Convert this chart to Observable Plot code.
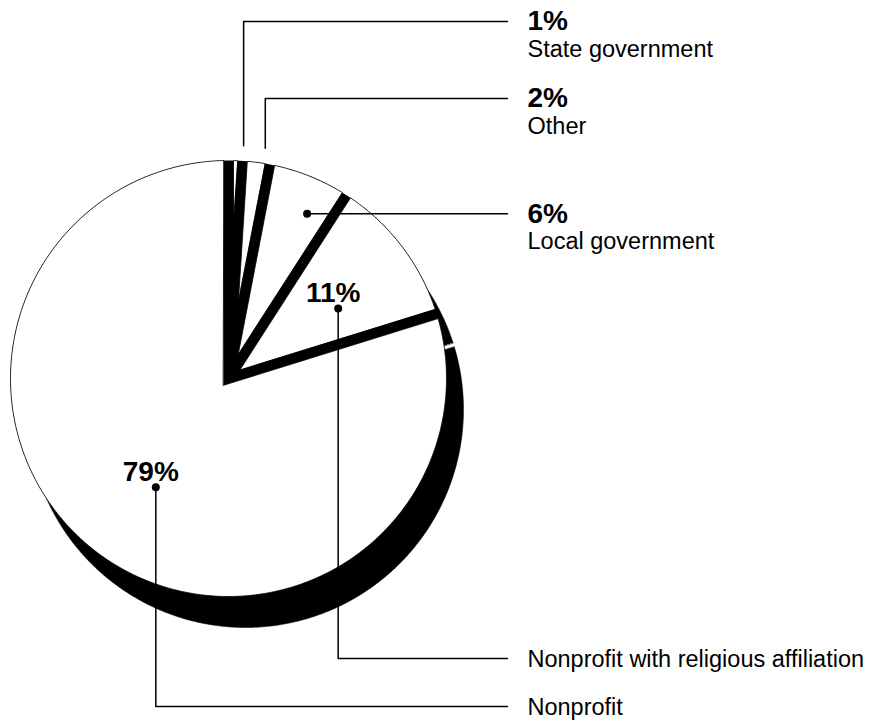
<!DOCTYPE html>
<html>
<head>
<meta charset="utf-8">
<script src="https://cdn.jsdelivr.net/npm/d3@7"></script>
<script src="https://cdn.jsdelivr.net/npm/@observablehq/plot@0.6"></script>
<style>
  html, body { margin: 0; padding: 0; background: #fff; }
  #chart { width: 873px; height: 721px; }
</style>
</head>
<body>
<div id="chart"></div>
<script>
// ---- data ----
const categories = ["State government", "Other", "Local government", "Nonprofit with religious affiliation", "Nonprofit"];
const shares = [1, 2, 6, 11, 79];
const percentLabels = ["1%", "2%", "6%", "11%", "79%"];
const percentInside = [false, false, false, true, true];

// ---- layout (radius units, pie centred at 0,0, radius 1) ----
const W = 873, H = 721, R_PX = 218, CX = 228, CY = 378;
const HALF_GAP = 5 / R_PX;
const SHADOW_HALF_GAP = 2 / R_PX;
const SHADOW_DX = 17 / R_PX, SHADOW_DY = -31 / R_PX;
const anchorShiftDeg = [1.9, 1.8, 3.7, 4.7, -2.6];
const anchorRadius = [1.07, 1.07, 0.837, 0.597, 0.6];
const labelRowY = [1.6376, 1.2844, null, -1.2844, -1.5046];
const lineEndX = 1.2798, textX = 1.3716;

const xDomain = [-CX / R_PX, (W - CX) / R_PX];
const yDomain = [-(H - CY) / R_PX, CY / R_PX];

const arcs = d3.pie().sort(null).startAngle(0).endAngle(2 * Math.PI)(shares);

function slicePoly(a0, a1, g) {
  const half = (a1 - a0) / 2, m = (a0 + a1) / 2;
  const d = g / Math.sin(half);
  const pts = [[d * Math.sin(m), d * Math.cos(m)]];
  const s = a0 + Math.asin(g), e = a1 - Math.asin(g);
  const n = Math.max(2, Math.ceil((e - s) / (Math.PI / 360)));
  for (let i = 0; i <= n; i++) {
    const t = s + (e - s) * i / n;
    pts.push([Math.sin(t), Math.cos(t)]);
  }
  return pts;
}

const sliceRows = [], shadowRows = [], diskRows = [];
arcs.forEach((a, i) => {
  slicePoly(a.startAngle, a.endAngle, HALF_GAP).forEach(([x, y]) => {
    sliceRows.push({id: categories[i], x, y});
  });
  slicePoly(a.startAngle, a.endAngle, SHADOW_HALF_GAP).forEach(([x, y]) => {
    shadowRows.push({id: categories[i], x: x + SHADOW_DX, y: y + SHADOW_DY});
  });
});
for (let i = 0; i < 360; i++) {
  const t = i * Math.PI / 180;
  diskRows.push({x: Math.sin(t), y: Math.cos(t)});
}

const anchors = arcs.map((a, i) => {
  const t = (a.startAngle + a.endAngle) / 2 + anchorShiftDeg[i] * Math.PI / 180;
  return {id: categories[i], x: anchorRadius[i] * Math.sin(t), y: anchorRadius[i] * Math.cos(t)};
});
const rowY = anchors.map((p, i) => labelRowY[i] == null ? p.y : labelRowY[i]);

const leaderRows = [];
anchors.forEach((p, i) => {
  leaderRows.push({id: p.id, x: p.x, y: p.y});
  if (Math.abs(rowY[i] - p.y) > 1e-6) leaderRows.push({id: p.id, x: p.x, y: rowY[i]});
  leaderRows.push({id: p.id, x: lineEndX, y: rowY[i]});
});
const dotRows = anchors.filter((p, i) => anchorRadius[i] < 1);
const outsidePct = categories.map((c, i) => ({label: percentLabels[i], x: textX, y: rowY[i]})).filter((d, i) => !percentInside[i]);
const insidePct = categories.map((c, i) => ({label: percentLabels[i], x: anchors[i].x, y: anchors[i].y})).filter((d, i) => percentInside[i]);
const nameRows = categories.map((c, i) => ({label: c, x: textX, y: rowY[i], below: !percentInside[i]}));

const font = "'Liberation Sans', Arial, Helvetica, sans-serif";

const chart = Plot.plot({
  width: W, height: H,
  marginTop: 0, marginRight: 0, marginBottom: 0, marginLeft: 0,
  x: {domain: xDomain, range: [0, W], axis: null},
  y: {domain: yDomain, range: [H, 0], axis: null},
  style: {fontFamily: font, background: "white", overflow: "visible"},
  marks: [
    Plot.line(shadowRows, {x: "x", y: "y", z: "id", fill: "black", stroke: "black", strokeWidth: 0.5, curve: "linear-closed"}),
    Plot.line(diskRows, {x: "x", y: "y", fill: "black", stroke: "none", curve: "linear-closed"}),
    Plot.line(sliceRows, {x: "x", y: "y", z: "id", fill: "white", stroke: "black", strokeWidth: 0.8, curve: "linear-closed"}),
    Plot.line(leaderRows, {x: "x", y: "y", z: "id", stroke: "black", strokeWidth: 1.5}),
    Plot.dot(dotRows, {x: "x", y: "y", r: 4, fill: "black", stroke: "none"}),
    Plot.text(outsidePct, {x: "x", y: "y", text: "label", textAnchor: "start", fontSize: 28, fontWeight: "bold", fill: "black", fontFamily: font}),
    Plot.text(insidePct, {x: "x", y: "y", text: "label", textAnchor: "middle", dx: -5, dy: -15, fontSize: 28, fontWeight: "bold", fill: "black", fontFamily: font}),
    Plot.text(nameRows.filter(d => d.below), {x: "x", y: "y", text: "label", textAnchor: "start", dy: 28, fontSize: 23.5, fill: "black", fontFamily: font}),
    Plot.text(nameRows.filter(d => !d.below), {x: "x", y: "y", text: "label", textAnchor: "start", dy: 1, fontSize: 23.5, fill: "black", fontFamily: font})
  ]
});
document.getElementById("chart").appendChild(chart);
</script>
</body>
</html>
